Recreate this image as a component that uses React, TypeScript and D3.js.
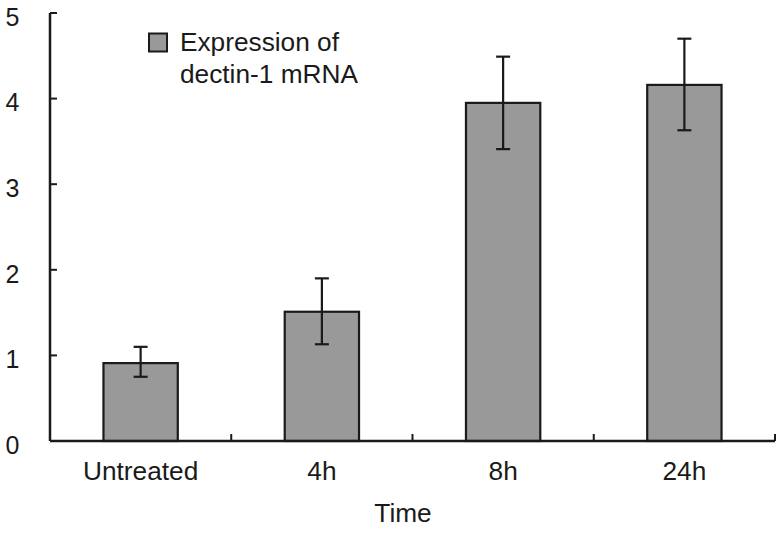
import React from "react";
import * as d3 from "d3";

const categories = ["Untreated", "4h", "8h", "24h"];
const values = [0.91, 1.51, 3.95, 4.16];
const errLow = [0.75, 1.13, 3.41, 3.63];
const errHigh = [1.1, 1.9, 4.49, 4.7];
const yTicks = [0, 1, 2, 3, 4, 5];
const legendLines = ["Expression of", "dectin-1 mRNA"];
const xTitle = "Time";

const W = 782;
const H = 533;
const left = 50;
const right = 775;
const top = 13;
const bottom = 441;
const font = "'Liberation Sans', Arial, sans-serif";
const ink = "#1a1a1a";
const sx = 1.05;
const fs = 25;

export default function App() {
  const x = d3.scaleBand<string>().domain(categories).range([left, right]).padding(0);
  const y = d3.scaleLinear().domain([0, 5]).range([bottom, top]);
  const bw = x.bandwidth() * 0.41;
  const cap = 7;

  return (
    <svg width={W} height={H} style={{ position: "absolute", left: 0, top: 0, background: "#fff" }}>
      {/* bars */}
      {categories.map((c, i) => {
        const cx = (x(c) as number) + x.bandwidth() / 2;
        return (
          <g key={c}>
            <rect
              x={cx - bw / 2}
              y={y(values[i])}
              width={bw}
              height={bottom - y(values[i])}
              fill="#999999"
              stroke={ink}
              strokeWidth={2.2}
            />
            <line x1={cx} x2={cx} y1={y(errHigh[i])} y2={y(errLow[i])} stroke={ink} strokeWidth={2.2} />
            <line x1={cx - cap} x2={cx + cap} y1={y(errHigh[i])} y2={y(errHigh[i])} stroke={ink} strokeWidth={2.2} />
            <line x1={cx - cap} x2={cx + cap} y1={y(errLow[i])} y2={y(errLow[i])} stroke={ink} strokeWidth={2.2} />
          </g>
        );
      })}
      {/* y axis */}
      <line x1={left} x2={left} y1={y(5)} y2={bottom} stroke={ink} strokeWidth={2.5} />
      {yTicks.map((t) => (
        <g key={t}>
          <line x1={left} x2={left + 7} y1={y(t)} y2={y(t)} stroke={ink} strokeWidth={2} />
          <text
            transform={`translate(19.5,${y(t) + 12.7})`}
            textAnchor="end"
            fontFamily={font}
            fontSize={fs}
            fill={ink}
          >
            {t}
          </text>
        </g>
      ))}
      {/* x axis */}
      <line x1={left} x2={right} y1={bottom} y2={bottom} stroke={ink} strokeWidth={2.5} />
      {categories.map((c) => {
        const xe = (x(c) as number) + x.bandwidth();
        return <line key={"t" + c} x1={xe} x2={xe} y1={bottom} y2={bottom - 7} stroke={ink} strokeWidth={2} />;
      })}
      {categories.map((c) => {
        const cx = (x(c) as number) + x.bandwidth() / 2;
        return (
          <text
            key={"l" + c}
            transform={`translate(${cx},480) scale(${sx},1)`}
            textAnchor="middle"
            fontFamily={font}
            fontSize={fs}
            fill={ink}
          >
            {c}
          </text>
        );
      })}
      <text
        transform={`translate(403,521.5) scale(${sx},1)`}
        textAnchor="middle"
        fontFamily={font}
        fontSize={fs}
        fill={ink}
      >
        {xTitle}
      </text>
      {/* legend */}
      <rect x={149} y={33.5} width={18} height={18} fill="#999999" stroke={ink} strokeWidth={2} />
      {legendLines.map((l, i) => (
        <text
          key={l}
          transform={`translate(180,${50.7 + i * 32.6}) scale(${sx},1)`}
          fontFamily={font}
          fontSize={fs}
          fill={ink}
        >
          {l}
        </text>
      ))}
    </svg>
  );
}
